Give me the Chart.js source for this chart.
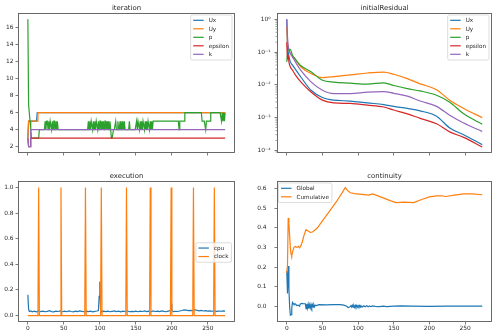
<!DOCTYPE html>
<html>
<head>
<meta charset="utf-8">
<script src="https://cdn.jsdelivr.net/npm/chart.js@4.4.1/dist/chart.umd.min.js"></script>
<style>
  html, body { margin: 0; padding: 0; background: #fff; }
  #fig { position: relative; width: 500px; height: 336px; }
  #fig canvas { position: absolute; }
</style>
</head>
<body>
<div id="fig">
  <canvas id="cIter" width="250" height="168" style="left:0;top:0"></canvas>
  <canvas id="cRes" width="250" height="168" style="left:250px;top:0"></canvas>
  <canvas id="cExec" width="250" height="168" style="left:0;top:168px"></canvas>
  <canvas id="cCont" width="250" height="168" style="left:250px;top:168px"></canvas>
</div>
<script>
/* ---------- data ---------- */
// time steps run 0..274; axes keep a 5 % margin on each side
const X_MIN = -13.7, X_MAX = 287.7;
const xTicks = [0, 50, 100, 150, 200, 250];

// solver iterations per step
const iterTicks = [2, 4, 6, 8, 10, 12, 14, 16];
const uxIter  = [[0,3],[1,5],[12,5],[13,6],[274,6]];
const uyIter  = [[0,3],[1,5],[13,5],[14,6],[274,6]];
const epsIter = [[0,3],[1,2],[3,2],[4,3],[274,3]];
const kIter   = [[0,3],[1,2],[3,2],[4,4],[274,4]];
const pIter = [
  17,7,6,5,4,3,3,3,3,3,3,3,3,3,3,3,4,4,4,4,4,4,4,4,5,
  4,5,5,4,5,4,5,5,4,5,4,5,5,4,5,4,5,4,4,4,4,4,4,4,4,
  4,4,4,4,4,4,4,4,4,4,4,4,4,4,4,4,4,4,4,4,4,4,4,4,4,
  4,4,4,4,4,4,4,4,4,5,4,5,4,5,5,4,5,4,5,4,5,5,4,5,4,
  5,5,4,5,4,5,4,5,5,4,5,4,5,4,5,4,3,3,3,4,4,4,5,4,4,
  5,4,4,5,4,4,5,4,4,5,4,4,4,4,4,4,5,4,4,4,4,4,4,4,4,
  4,5,4,5,5,4,5,4,5,4,5,5,4,5,4,5,4,5,5,4,5,4,5,4,5,
  5,5,5,5,5,5,5,5,5,5,5,5,5,5,5,5,5,5,5,5,5,5,5,5,5,
  5,5,5,5,5,5,5,5,5,5,4,5,5,5,5,5,5,5,6,6,6,6,6,6,6,
  6,6,6,6,6,6,6,6,6,6,6,6,6,6,6,6,6,5,5,5,5,5,4,5,5,
  5,5,5,5,6,6,6,6,6,6,6,6,6,6,6,6,6,6,6,5,6,5,6,5,6
];

// initial residuals (log axis)
const resTicks = [1e-4, 1e-3, 1e-2, 1e-1, 1];
const uxRes  = [[0,1.0],[1,0.15],[2,0.1],[3,0.075],[5,0.05],[8,0.04],[12,0.03],[20,0.017],[34,0.0068],[50,0.0041],[66,0.0034],[89,0.0032],[113,0.0028],[136,0.0025],[150,0.0022],[169,0.0019],[187,0.0016],[210,0.0011],[229,0.00047],[248,0.0003],[274,0.00015]];
const uyRes  = [[0,0.6],[1,0.2],[2,0.15],[3,0.12],[5,0.09],[8,0.075],[12,0.06],[20,0.035],[34,0.022],[50,0.0166],[66,0.0178],[89,0.02],[113,0.0229],[136,0.0245],[150,0.021],[169,0.0155],[187,0.0107],[210,0.0071],[229,0.0033],[248,0.0019],[274,0.001]];
const pRes   = [[0,0.05],[1,0.09],[2,0.15],[3,0.11],[5,0.12],[8,0.08],[12,0.06],[20,0.038],[34,0.025],[50,0.0138],[66,0.012],[89,0.0112],[113,0.0105],[136,0.0115],[150,0.0095],[169,0.0076],[187,0.0065],[210,0.0048],[229,0.0029],[248,0.0013],[274,0.00063]];
const epsRes = [[0,0.2],[1,0.06],[2,0.08],[3,0.05],[5,0.035],[8,0.028],[12,0.02],[20,0.012],[34,0.006],[50,0.0034],[66,0.0028],[89,0.0027],[113,0.0024],[136,0.0021],[150,0.0017],[169,0.0013],[187,0.00095],[210,0.00065],[229,0.00036],[248,0.00025],[274,0.000126]];
const kRes   = [[0,1.0],[1,0.3],[2,0.15],[3,0.12],[5,0.09],[8,0.07],[12,0.05],[20,0.027],[34,0.0123],[50,0.0068],[66,0.0054],[89,0.0054],[113,0.006],[136,0.0062],[150,0.0055],[169,0.0045],[187,0.0032],[210,0.0022],[229,0.00115],[248,0.00068],[274,0.00038]];

// execution time
const execTicks = [0, 0.2, 0.4, 0.6, 0.8, 1.0];
const cpu = [[0,0.162],[1,0.05],[2,0.032],[4,0.036],[6,0.03],[9,0.034],[12,0.029],[15,0.036],[18,0.031],[21,0.035],[24,0.03],[27,0.033],[30,0.038],[33,0.031],[36,0.029],[39,0.035],[42,0.032],[45,0.036],[48,0.03],[51,0.034],[54,0.03],[57,0.037],[60,0.032],[63,0.029],[66,0.035],[69,0.031],[72,0.036],[75,0.033],[78,0.03],[81,0.035],[84,0.031],[87,0.034],[90,0.029],[93,0.033],[96,0.036],[98,0.04],[99,0.15],[100,0.266],[101,0.05],[102,0.03],[105,0.034],[108,0.031],[111,0.035],[114,0.03],[117,0.033],[120,0.036],[123,0.031],[126,0.034],[129,0.029],[132,0.035],[135,0.032],[138,0.036],[141,0.03],[144,0.033],[147,0.031],[150,0.035],[153,0.03],[156,0.034],[159,0.032],[162,0.037],[165,0.031],[168,0.034],[171,0.03],[174,0.036],[177,0.032],[180,0.035],[183,0.031],[186,0.037],[189,0.033],[192,0.03],[195,0.035],[198,0.04],[199,0.092],[200,0.04],[202,0.031],[205,0.034],[208,0.032],[211,0.036],[214,0.04],[217,0.045],[220,0.042],[223,0.039],[226,0.041],[229,0.038],[232,0.046],[235,0.04],[238,0.037],[241,0.04],[244,0.036],[247,0.038],[250,0.035],[253,0.037],[256,0.034],[259,0.036],[262,0.033],[265,0.035],[268,0.034],[271,0.036],[274,0.035]];
const clock = [[0,0],[14,0],[15,1],[16,0],[45,0],[46,1],[47,0],[79,0],[80,1],[81,0],[101,0],[102,1],[103,0],[136,0],[137,1],[138,0],[169,0],[170,1],[171,0],[198,0],[199,1],[200,0],[229,0],[230,1],[231,0],[258,0],[259,1],[260,0],[274,0]];

// continuity errors
const contTicks = [0, 0.1, 0.2, 0.3, 0.4, 0.5, 0.6];
const globalErr = [[0,0.18],[1,0.065],[2,0.205],[3,0.09],[4,0.0],[5,-0.045],[6,-0.042],[7,-0.01],[8,0.02],[9,0.015],[10,0.01],[12,0.012],[14,0.004],[16,0.006],[18,0.0],[19,0.012],[21,0.015],[24,0.013],[26,0.013],[27,-0.012],[28,0.012],[29,-0.01],[30,0.01],[31,-0.012],[32,0.008],[33,-0.008],[34,0.01],[35,-0.006],[36,0.008],[37,-0.004],[38,0.008],[39,-0.002],[40,0.006],[42,0.004],[45,0.008],[55,0.007],[65,0.008],[75,0.008],[80,0.006],[84,0.0],[86,-0.006],[88,-0.004],[90,0.004],[91,-0.004],[92,0.005],[93,-0.005],[94,0.004],[95,-0.005],[96,0.005],[97,-0.004],[98,0.004],[99,-0.004],[100,0.004],[101,-0.003],[102,0.004],[103,-0.004],[104,0.003],[106,-0.003],[108,0.003],[110,-0.002],[112,0.003],[114,-0.002],[116,0.002],[118,-0.002],[120,0.002],[124,0.0],[130,-0.002],[135,0.001],[140,-0.002],[150,0.001],[160,0.002],[175,0.001],[200,0.0],[225,0.001],[250,0.001],[274,0.001]];
const cumulErr = [[0,0.17],[1,0.21],[2,0.45],[3,0.42],[4,0.36],[5,0.3],[6,0.265],[7,0.258],[8,0.275],[10,0.3],[12,0.305],[14,0.3],[16,0.305],[18,0.298],[20,0.31],[22,0.33],[24,0.36],[27,0.39],[30,0.383],[33,0.376],[36,0.378],[40,0.39],[43,0.4],[50,0.435],[60,0.485],[70,0.535],[78,0.58],[82,0.605],[85,0.59],[89,0.578],[95,0.574],[105,0.57],[115,0.566],[120,0.572],[126,0.565],[135,0.552],[145,0.538],[153,0.528],[165,0.53],[178,0.528],[190,0.545],[200,0.557],[210,0.562],[217,0.563],[223,0.559],[235,0.566],[248,0.572],[260,0.572],[274,0.568]];

/* ---------- styling ---------- */
const C = { blue:'#1f77b4', orange:'#ff7f0e', green:'#2ca02c', red:'#d62728', purple:'#9467bd' };
const FONT = "'DejaVu Sans', sans-serif";
const INK = '#262626', SPINE = '#5a5a5a';
const tickFont = { font:{ family:FONT, size:5.9 }, color:INK };
const tickGrid = { drawOnChartArea:false, drawTicks:true, tickLength:2.5, color:SPINE, lineWidth:0.8 };

const SUP = { '-':'⁻', '0':'⁰', '1':'¹', '2':'²', '3':'³', '4':'⁴', '5':'⁵' };
const powLabel = v => '10' + String(Math.round(Math.log10(v))).split('').map(c => SUP[c]).join('');

/* frame on four sides, title, minor log ticks and a boxed legend */
const axesDeco = {
  id: 'axesDeco',
  afterDraw(chart, args, o) {
    const { ctx, chartArea: a } = chart;
    ctx.save();
    if (o.minor) {
      const ys = chart.scales.y;
      ctx.strokeStyle = SPINE; ctx.lineWidth = 0.6;
      ctx.beginPath();
      for (let d = -5; d <= 0; d++) for (let m = 2; m <= 9; m++) {
        const py = ys.getPixelForValue(m * Math.pow(10, d));
        if (py < a.top || py > a.bottom) continue;
        ctx.moveTo(a.left, py); ctx.lineTo(a.left - 1.5, py);
      }
      ctx.stroke();
    }
    ctx.strokeStyle = SPINE; ctx.lineWidth = 0.9;
    const l = Math.round(a.left) + 0.5, t = Math.round(a.top) + 0.5;
    ctx.strokeRect(l, t, Math.round(a.right) - l - 0.5, Math.round(a.bottom) - t - 0.5);

    ctx.fillStyle = INK; ctx.font = `6.9px ${FONT}`;
    ctx.textAlign = 'center'; ctx.textBaseline = 'alphabetic';
    ctx.fillText(o.title, (a.left + a.right) / 2, a.top - 3.2);

    // legend
    const items = chart.data.datasets.map(d => ({ label:d.label, color:d.borderColor }));
    const row = 8.5;
    ctx.font = `5.7px ${FONT}`;
    const tw = Math.max(...items.map(it => ctx.measureText(it.label).width));
    const w = 18 + tw + 3, h = (items.length - 1) * row + 11;
    let x, y;
    if (o.legend === 'ne') { x = a.right - 3 - w; y = a.top + 2; }
    else if (o.legend === 'nw') { x = a.left + 1.5; y = a.top + 2; }
    else { x = a.right - 3.5 - w; y = (a.top + a.bottom) / 2 - h / 2 + 1; }
    ctx.fillStyle = 'rgba(255,255,255,0.8)'; ctx.strokeStyle = '#d4d4d4'; ctx.lineWidth = 0.8;
    ctx.beginPath(); ctx.roundRect(x, y, w, h, 1.5); ctx.fill(); ctx.stroke();
    items.forEach((it, i) => {
      const cy = y + 5.3 + i * row;
      ctx.strokeStyle = it.color; ctx.lineWidth = 1.2;
      ctx.beginPath(); ctx.moveTo(x + 2.5, cy); ctx.lineTo(x + 13, cy); ctx.stroke();
      ctx.fillStyle = INK; ctx.textAlign = 'left'; ctx.textBaseline = 'middle';
      ctx.fillText(it.label, x + 18, cy + 0.3);
    });
    ctx.restore();
  }
};

function panel(id, cfg) {
  return new Chart(document.getElementById(id), {
    type: 'line',
    data: {
      datasets: cfg.series.map((s, i, arr) => ({
        label: s.label,
        data: s.data.map(([x, y]) => ({ x, y })),
        borderColor: s.color, backgroundColor: s.color,
        borderWidth: 1.2, pointRadius: 0, fill: false,
        order: arr.length - i,
        cubicInterpolationMode: cfg.smooth ? 'monotone' : 'default'
      }))
    },
    options: {
      responsive: false, animation: false, events: [],
      layout: { padding: { top: 13, left: 0, right: cfg.padR, bottom: 0 } },
      plugins: {
        legend: { display: false }, tooltip: { enabled: false },
        axesDeco: { title: cfg.title, legend: cfg.legend, minor: cfg.minor }
      },
      scales: {
        x: {
          type: 'linear', min: X_MIN, max: X_MAX,
          afterBuildTicks: s => { s.ticks = xTicks.map(v => ({ value: v })); },
          afterFit: s => { s.height = cfg.xh; },
          grid: tickGrid, border: { display: false },
          ticks: { ...tickFont, display: cfg.xLabels, padding: 0.5, maxRotation: 0, autoSkip: false, callback: v => String(v) }
        },
        y: {
          type: cfg.yType || 'linear', min: cfg.yMin, max: cfg.yMax,
          afterBuildTicks: s => { s.ticks = cfg.yTicks.map(v => ({ value: v })); },
          afterFit: s => { s.width = cfg.yw; },
          grid: tickGrid, border: { display: false },
          ticks: { ...tickFont, padding: cfg.yPad, autoSkip: false, callback: cfg.yFmt }
        }
      }
    },
    plugins: [axesDeco]
  });
}

panel('cIter', {
  title: 'iteration', legend: 'ne', yw: 18, padR: 15, xh: 15, xLabels: false,
  yMin: 1.25, yMax: 17.75, yTicks: iterTicks, yFmt: v => String(v), yPad: 2,
  series: [
    { label:'Ux', color:C.blue, data:uxIter },
    { label:'Uy', color:C.orange, data:uyIter },
    { label:'p', color:C.green, data:pIter.map((v, i) => [i, v]) },
    { label:'epsilon', color:C.red, data:epsIter },
    { label:'k', color:C.purple, data:kIter }
  ]
});

panel('cRes', {
  title: 'initialResidual', legend: 'ne', yw: 27, padR: 8, xh: 15, xLabels: false,
  yType: 'logarithmic', yMin: Math.pow(10, -4.08), yMax: Math.pow(10, 0.19),
  yTicks: resTicks, yFmt: powLabel, yPad: 4, minor: true, smooth: true,
  series: [
    { label:'Ux', color:C.blue, data:uxRes },
    { label:'Uy', color:C.orange, data:uyRes },
    { label:'p', color:C.green, data:pRes },
    { label:'epsilon', color:C.red, data:epsRes },
    { label:'k', color:C.purple, data:kRes }
  ]
});

panel('cExec', {
  title: 'execution', legend: 'e', yw: 18, padR: 15, xh: 14, xLabels: true,
  yMin: -0.05, yMax: 1.05, yTicks: execTicks, yFmt: v => v.toFixed(1), yPad: 2,
  series: [
    { label:'cpu', color:C.blue, data:cpu },
    { label:'clock', color:C.orange, data:clock }
  ]
});

panel('cCont', {
  title: 'continuity', legend: 'nw', yw: 27, padR: 8, xh: 14, xLabels: true,
  yMin: -0.08, yMax: 0.638, yTicks: contTicks, yFmt: v => v.toFixed(1), yPad: 8,
  series: [
    { label:'Global', color:C.blue, data:globalErr },
    { label:'Cumulative', color:C.orange, data:cumulErr }
  ]
});
</script>
</body>
</html>
